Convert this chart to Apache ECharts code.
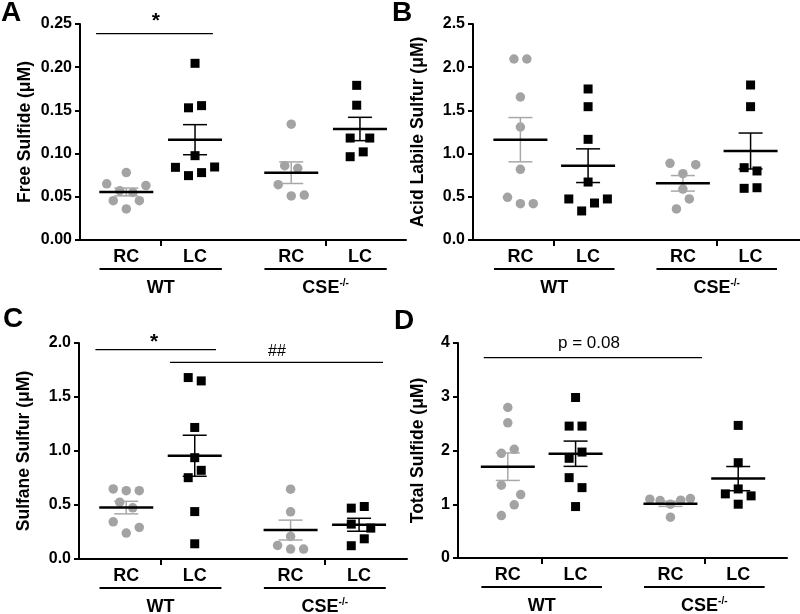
<!DOCTYPE html>
<html><head><meta charset="utf-8">
<script src="https://cdn.jsdelivr.net/npm/echarts@6/dist/echarts.min.js"></script>
<style>html,body{margin:0;padding:0;background:#fff}#c{width:800px;height:614px}</style>
</head><body><div id="c"></div>
<script>
// ---------- categories / labels ----------
const groupLabels = ['RC', 'LC', 'RC', 'LC'];
const groupPos = [1, 2, 3.4, 4.4];
const genotypeLabels = ['WT', 'CSE'];
const panelLetters = ['A', 'B', 'C', 'D'];
const yNames = ['Free Sulfide (\u03bcM)', 'Acid Labile Sulfur (\u03bcM)', 'Sulfane Sulfur (\u03bcM)', 'Total Sulfide (\u03bcM)'];
const yTicksA = [0, 0.25, 0.05];
const yTicksB = [0, 2.5, 0.5];
const yTicksC = [0, 2.0, 0.5];
const yTicksD = [0, 4, 1];

// ---------- Panel A: Free sulfide ----------
const A_wtRC = [0.078, 0.065, 0.063, 0.057, 0.055, 0.0455, 0.0455, 0.036];
const A_wtLC = [0.2045, 0.153, 0.1555, 0.0976, 0.0841, 0.0845, 0.0745, 0.078];
const A_cseRC = [0.134, 0.086, 0.083, 0.064, 0.051, 0.052];
const A_cseLC = [0.179, 0.156, 0.118, 0.118, 0.0964, 0.102];
const A_mean = [0.0556, 0.1161, 0.0779, 0.1285];
const A_sem = [0.0045, 0.0174, 0.0125, 0.0135];
const A_jit = [[0, -3, 3, -1, 1, -2, 2, 0], [0, -1, 1, 0, -3, 3, -1, 1], [0, -1, 1, -2, 0, 2], [-0.5, -0.5, -1.5, 1.5, -1.5, 0.5]];

// ---------- Panel B: Acid labile sulfur ----------
const B_wtRC = [2.095, 2.095, 1.655, 1.308, 0.818, 0.494, 0.420, 0.420];
const B_wtLC = [1.748, 1.543, 1.165, 0.671, 0.475, 0.336, 0.428, 0.475];
const B_cseRC = [0.887, 0.872, 0.768, 0.590, 0.475, 0.359];
const B_cseLC = [1.794, 1.543, 0.837, 0.799, 0.598, 0.605];
const B_mean = [1.161, 0.860, 0.656, 1.030];
const B_sem = [0.256, 0.195, 0.090, 0.208];
const B_jit = [[-1, 1, 0, 0, 0, -2, 0, 2], [0, 0, 0, 0, -3, -1, 1, 3], [-2, 2, 0, 0, 1, -1], [0, 0, -1, 1, -1, 1]];

// ---------- Panel C: Sulfane sulfur ----------
const C_wtRC = [0.649, 0.633, 0.633, 0.526, 0.474, 0.344, 0.292, 0.240];
const C_wtLC = [1.680, 1.649, 1.218, 0.938, 0.821, 0.753, 0.439, 0.141];
const C_cseRC = [0.646, 0.437, 0.209, 0.126, 0.092, 0.092];
const C_cseLC = [0.471, 0.486, 0.323, 0.286, 0.187, 0.123];
const C_mean = [0.476, 0.956, 0.268, 0.317];
const C_sem = [0.058, 0.190, 0.092, 0.060];
const C_jit = [[-2, 0, 2, -1, 1, -2, 2, 0], [-1, 1, 0, 0, 1, -1, 0, 0], [0, 0, 0, -2, 0, 2], [-1.2, 0.8, -1.2, 1.8, 0.8, -1.2]];

// ---------- Panel D: Total sulfide ----------
const D_wtRC = [2.800, 2.515, 1.947, 2.022, 1.354, 1.180, 0.989, 0.790];
const D_wtLC = [2.986, 2.454, 2.454, 1.971, 1.855, 1.495, 1.309, 0.957];
const D_cseRC = [1.094, 1.068, 1.076, 1.105, 1.001, 0.760];
const D_cseLC = [2.467, 1.773, 1.285, 1.193, 1.156, 1.001];
const D_mean = [1.699, 1.940, 1.007, 1.477];
const D_sem = [0.256, 0.235, 0.047, 0.225];
const D_jit = [[0, 0, -1, 1, -1, 2, 1, -1], [0, -1, 1, 1, -1, -1, 1, 0], [-3.2, -1.6, 1.6, 3.1, 0, 0], [0, 0, 0, -2, 2, 0]];

// ---------- significance annotations (data coordinates) ----------
const sigNotes = [
  [{ from: 0.56, to: 2.26, y: 0.2388, text: '*', tx: 1.428, ty: 0.2538, bold: true, size: 21 }],
  [],
  [{ from: 0.55, to: 2.31, y: 1.938, text: '*', tx: 1.405, ty: 2.003, bold: true, size: 21 },
   { from: 1.64, to: 4.75, y: 1.821, text: '##', tx: 3.2, ty: 1.916, bold: false, size: 16 }],
  [{ from: 0.645, to: 3.865, y: 3.728, text: 'p = 0.08', tx: 2.198, ty: 3.987, bold: false, size: 17 }]
];

// ---------- styles / layout ----------
const FONT = '"Liberation Sans", Arial, Helvetica, sans-serif';
const GREY_PT = '#a3a3a3';
const GREY_BAR = '#a8a8a8';
const JIT = 0.095;
const GROUP_HALF = 0.89;
const grids = [
  { left: 80, top: 24, width: 326, height: 216 },
  { left: 473, top: 24, width: 327, height: 216 },
  { left: 79, top: 343, width: 328, height: 216 },
  { left: 458, top: 343, width: 329, height: 215 }
];
const xRanges = [[0.326, 5.07], [0.30, 5.13], [0.31, 5.10], [0.265, 5.12]];
const nameGaps = [46, 46, 46, 31];
const decimals = [2, 1, 1, 0];
const letterPos = [[11, 13], [402, 13], [13, 319], [404, 321]];

const panels = [
  { vals: [A_wtRC, A_wtLC, A_cseRC, A_cseLC], jit: A_jit, mean: A_mean, sem: A_sem, yt: yTicksA },
  { vals: [B_wtRC, B_wtLC, B_cseRC, B_cseLC], jit: B_jit, mean: B_mean, sem: B_sem, yt: yTicksB },
  { vals: [C_wtRC, C_wtLC, C_cseRC, C_cseLC], jit: C_jit, mean: C_mean, sem: C_sem, yt: yTicksC },
  { vals: [D_wtRC, D_wtLC, D_cseRC, D_cseLC], jit: D_jit, mean: D_mean, sem: D_sem, yt: yTicksD }
];

const genoCenters = [(groupPos[0] + groupPos[1]) / 2, (groupPos[2] + groupPos[3]) / 2];

function labelFor(v) {
  for (let i = 0; i < groupPos.length; i++) if (Math.abs(groupPos[i] - v) < 1e-6) return groupLabels[i];
  return '';
}

function renderErr(params, api) {
  const x = api.value(0), m = api.value(1), s = api.value(2), lc = api.value(3);
  const c = api.coord([x, m]);
  const t = api.coord([x, m + s]);
  const b = api.coord([x, m - s]);
  const wc = lc ? '#000' : GREY_BAR;
  const cap = 12, half = 27;
  return {
    type: 'group',
    children: [
      { type: 'line', shape: { x1: t[0], y1: t[1], x2: b[0], y2: b[1] }, style: { stroke: wc, lineWidth: 1.5 } },
      { type: 'line', shape: { x1: t[0] - cap, y1: t[1], x2: t[0] + cap, y2: t[1] }, style: { stroke: wc, lineWidth: 1.5 } },
      { type: 'line', shape: { x1: b[0] - cap, y1: b[1], x2: b[0] + cap, y2: b[1] }, style: { stroke: wc, lineWidth: 1.5 } },
      { type: 'line', shape: { x1: c[0] - half, y1: c[1], x2: c[0] + half, y2: c[1] }, style: { stroke: '#000', lineWidth: 2.5 } }
    ]
  };
}

const xAxes = [], yAxes = [], series = [];
panels.forEach((p, pi) => {
  xAxes.push({
    gridIndex: pi, type: 'value', min: xRanges[pi][0], max: xRanges[pi][1],
    axisLine: { lineStyle: { color: '#000', width: 2 } },
    axisTick: { show: true, customValues: genoCenters, length: 6, lineStyle: { color: '#000', width: 2 } },
    axisLabel: { customValues: groupPos, formatter: labelFor, color: '#000', fontWeight: 'bold', fontSize: 18, fontFamily: FONT, margin: 8 },
    splitLine: { show: false }
  });
  yAxes.push({
    gridIndex: pi, type: 'value', min: p.yt[0], max: p.yt[1], interval: p.yt[2],
    name: yNames[pi], nameLocation: 'middle', nameGap: nameGaps[pi],
    nameTextStyle: { color: '#000', fontWeight: 'bold', fontSize: 17.5, fontFamily: FONT },
    axisLine: { show: true, lineStyle: { color: '#000', width: 2 } },
    axisTick: { show: true, length: 5, lineStyle: { color: '#000', width: 2 } },
    axisLabel: { color: '#000', fontWeight: 'bold', fontSize: 16, fontFamily: FONT, margin: 8,
      formatter: v => v.toFixed(decimals[pi]) },
    splitLine: { show: false }
  });
  p.vals.forEach((vals, gi) => {
    const isLC = groupLabels[gi] === 'LC';
    series.push({
      type: 'scatter', xAxisIndex: pi, yAxisIndex: pi, silent: true,
      symbol: isLC ? 'rect' : 'circle', symbolSize: isLC ? 9 : 9.5,
      itemStyle: { color: isLC ? '#000' : GREY_PT, opacity: 1 },
      data: vals.map((v, i) => [groupPos[gi] + p.jit[gi][i] * JIT, v])
    });
  });
  series.push({
    type: 'custom', xAxisIndex: pi, yAxisIndex: pi, silent: true, z: 5,
    renderItem: renderErr,
    encode: { x: 0, y: 1 },
    data: groupPos.map((x, gi) => [x, p.mean[gi], p.sem[gi], groupLabels[gi] === 'LC' ? 1 : 0])
  });
});

const chart = echarts.init(document.getElementById('c'), null, { renderer: 'canvas' });
chart.setOption({
  animation: false,
  backgroundColor: '#fff',
  textStyle: { fontFamily: FONT },
  grid: grids.map(g => Object.assign({ containLabel: false }, g)),
  xAxis: xAxes, yAxis: yAxes, series: series
});

// ---------- annotations positioned through the axes' scales ----------
const gfx = [];
function txt(text, x, y, font, extra) {
  return Object.assign({ type: 'text', silent: true, style: { text: text, x: x, y: y, font: font, fill: '#000',
    textAlign: 'center', textVerticalAlign: 'middle', align: 'center', verticalAlign: 'middle' } }, extra || {});
}
panels.forEach((p, pi) => {
  const conv = pt => chart.convertToPixel({ gridIndex: pi }, pt);
  const y0 = conv([genoCenters[0], p.yt[0]])[1];
  genoCenters.forEach((gc, k) => {
    const a = conv([gc - GROUP_HALF, p.yt[0]]);
    const b = conv([gc + GROUP_HALF, p.yt[0]]);
    gfx.push({ type: 'line', silent: true, shape: { x1: a[0], y1: y0 + 29, x2: b[0], y2: y0 + 29 }, style: { stroke: '#000', lineWidth: 2 } });
    const cx = conv([gc, p.yt[0]])[0];
    if (k === 0) {
      gfx.push(txt(genotypeLabels[k], cx, y0 + 48, 'bold 18px ' + FONT));
    } else {
      gfx.push({ type: 'text', silent: true, style: {
        text: '{b|' + genotypeLabels[k] + '}{s|-/-}', x: cx, y: y0 + 48,
        textAlign: 'center', textVerticalAlign: 'middle', align: 'center', verticalAlign: 'middle',
        rich: {
          b: { fontFamily: FONT, fontWeight: 'bold', fontSize: 18, lineHeight: 20, fill: '#000', color: '#000' },
          s: { fontFamily: FONT, fontWeight: 'bold', fontSize: 10, lineHeight: 20, verticalAlign: 'top', fill: '#000', color: '#000', padding: [0, 0, 8, 0] }
        }
      } });
    }
  });
  sigNotes[pi].forEach(n => {
    const a = conv([n.from, n.y]), b = conv([n.to, n.y]);
    gfx.push({ type: 'line', silent: true, shape: { x1: a[0], y1: a[1], x2: b[0], y2: b[1] }, style: { stroke: '#000', lineWidth: 1.3 } });
    const t = conv([n.tx, n.ty]);
    gfx.push(txt(n.text, t[0], t[1], (n.bold ? 'bold ' : '') + n.size + 'px ' + FONT));
  });
  gfx.push(txt(panelLetters[pi], letterPos[pi][0], letterPos[pi][1], 'bold 28px ' + FONT));
});
chart.setOption({ graphic: { elements: gfx } });
</script>
</body></html>
